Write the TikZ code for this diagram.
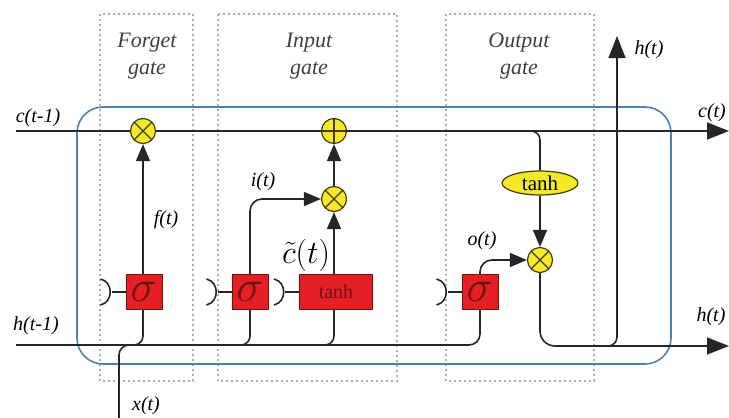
\documentclass[tikz,border=0pt]{standalone}
\usepackage{graphicx}
\usepackage{fontspec}
\setmainfont{Liberation Serif}
\usetikzlibrary{arrows.meta,shapes.geometric}
\definecolor{boxred}{RGB}{228,32,36}
\definecolor{boxredd}{RGB}{110,20,20}
\definecolor{cyel}{RGB}{245,232,40}
\definecolor{cyeld}{RGB}{70,60,20}
\definecolor{cellblue}{RGB}{75,130,180}
\definecolor{gategray}{RGB}{175,175,175}
\begin{document}
\begin{tikzpicture}[x=1pt,y=-1pt,
  wire/.style={line width=1.6pt, black!85},
  arr/.style={wire, -{Triangle[length=17pt,width=14pt]}},
  bigarr/.style={wire, -{Triangle[length=22pt,width=17pt]}},
  redbox/.style={draw=boxredd, fill=boxred, line width=1pt, inner sep=0pt, minimum height=35pt},
  sig/.style={redbox, minimum width=36pt, text=boxredd, font=\fontsize{24}{24}\selectfont},
  tanhbox/.style={redbox, minimum width=73pt, text=boxredd, font=\fontsize{20}{20}\selectfont},
  tanhell/.style={ellipse, draw=cyeld, fill=cyel, line width=1.2pt, minimum width=76pt, minimum height=24pt, inner sep=0pt, font=\fontsize{21}{21}\selectfont},
  mult/.style={circle, draw=cyeld, fill=cyel, line width=1.2pt, minimum size=25pt, inner sep=0pt,
    path picture={\draw[cyeld, line width=1.2pt] (path picture bounding box.north west) -- (path picture bounding box.south east) (path picture bounding box.north east) -- (path picture bounding box.south west);}},
  plusnode/.style={circle, draw=cyeld, fill=cyel, line width=1.2pt, minimum size=25pt, inner sep=0pt,
    path picture={\draw[cyeld, line width=1.2pt] (path picture bounding box.north) -- (path picture bounding box.south) (path picture bounding box.east) -- (path picture bounding box.west);}},
  gatebox/.style={gategray, line width=1.4pt, dash pattern=on 2pt off 3pt},
  gatetitle/.style={font=\fontsize{22}{22}\selectfont\itshape, text=black!75, inner sep=0pt},
  lbl/.style={font=\fontsize{20}{20}\selectfont\itshape, inner sep=0pt},
  concat/.pic={\draw[wire] (-11,-13) .. controls (2,-10) and (2,10) .. (-11,13);}
]
\useasboundingbox (0,0) rectangle (729,418);

% gate boxes
\draw[gatebox] (100,14) rectangle (193,381);
\draw[gatebox] (218,14) rectangle (397,381);
\draw[gatebox] (446,14) rectangle (594,381);
\node[gatetitle] (tf1) at (147,43) {Forget};
\node[gatetitle] (tf2) at (147,71) {gate};
\node[gatetitle] (ti1) at (309,43) {Input};
\node[gatetitle] (ti2) at (309,71) {gate};
\node[gatetitle] (to1) at (519,43) {Output};
\node[gatetitle] (to2) at (519,71) {gate};

% cell boundary
\draw[cellblue, line width=1.6pt, rounded corners=26pt] (77,107) rectangle (671,364);

% free ends
\coordinate (cin) at (16,131);
\coordinate (cout) at (729,131);
\coordinate (hin) at (16,345);
\coordinate (hout) at (729,346);
\coordinate (xin) at (119,418);
\coordinate (htop) at (617,36);

% nodes
\node[mult] (fmul) at (143,131) {};
\node[plusnode] (iplus) at (334,131) {};
\node[mult] (imul) at (334,199) {};
\node[mult] (omul) at (540,260) {};
\node[sig] (fsig) at (144,292) {\scalebox{1.8}{$\sigma$}};
\node[sig] (isig) at (250,292) {\scalebox{1.8}{$\sigma$}};
\node[tanhbox] (itanh) at (336,292) {tanh};
\node[sig] (osig) at (480,292) {\scalebox{1.8}{$\sigma$}};
\node[tanhell] (otanh) at (540,183) {tanh};

% cell state line
\draw[wire] (cin) -- (fmul.west);
\draw[wire] (fmul.east) -- (iplus.west);
\draw[bigarr] (iplus.east) -- (cout);

% hidden line and input
\draw[wire, rounded corners=11pt] (hin) -- (480,345) -- (osig.south);
\draw[wire, rounded corners=10pt] (xin) -- (119,345) -- (140,345);

% forget gate
\draw[wire, rounded corners=9pt] (128,345) -- (143,345) -- (fsig.south -| fmul);
\draw[arr] (fsig.north -| fmul) -- (fmul.south);

% input gate
\draw[wire, rounded corners=9pt] (234,345) -- (250,345) -- (isig.south);
\draw[arr, rounded corners=12pt] (isig.north) -- (250,199) -- (imul.west);
\draw[wire, rounded corners=9pt] (318,345) -- (334,345) -- (itanh.south -| imul);
\draw[arr] (itanh.north -| imul) -- (imul.south);
\draw[arr] (imul.north) -- (iplus.south);

% output gate
\draw[arr, rounded corners=12pt] (osig.north) -- (480,260) -- (omul.west);
\draw[wire, rounded corners=9pt] (525,131) -- (540,131) -- (otanh.north);
\draw[arr] (otanh.south) -- (omul.north);
\draw[bigarr, rounded corners=15pt] (omul.south) -- (540,346) -- (hout);
\draw[bigarr, rounded corners=9pt] (600,346) -- (617,346) -- (htop);

% concatenation marks
\foreach \b in {fsig,isig,itanh,osig}{
  \draw[wire] ([xshift=-14pt]\b.west) -- (\b.west);
  \pic at ([xshift=-14pt]\b.west) {concat};
}

% labels
\node[lbl] (lc0) at (38,118) {c(t-1)};
\node[lbl] (lc1) at (712,113) {c(t)};
\node[lbl] (lh0) at (36,326) {h(t-1)};
\node[lbl] (lh1) at (711,317) {h(t)};
\node[lbl] (lh2) at (649,50) {h(t)};
\node[lbl] (lx) at (146,406) {x(t)};
\node[lbl] (lf) at (166,220) {f(t)};
\node[lbl] (li) at (263,182) {i(t)};
\node[lbl] (lo) at (482,241) {o(t)};
\node[inner sep=0pt, font=\fontsize{24}{24}\selectfont] (lct) at (306,255) {\scalebox{1.3}{$\tilde{c}(t)$}};
\end{tikzpicture}
\end{document}
